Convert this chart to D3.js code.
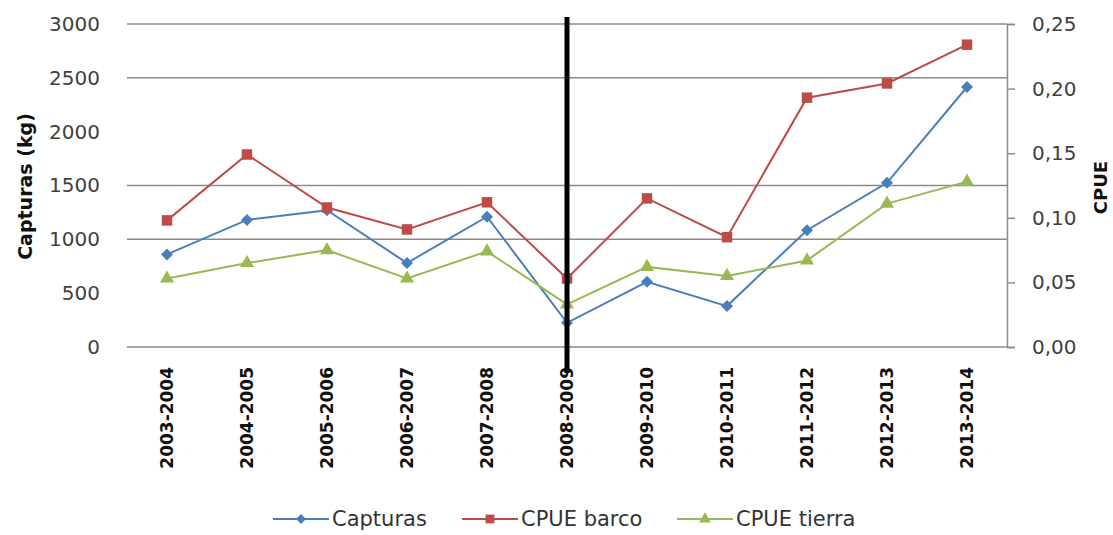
<!DOCTYPE html>
<meta charset="utf-8">
<style>
body { margin: 0; background: #fff; }
.tick text { font-family: "DejaVu Sans", sans-serif; }
</style>
<body>
<script src="https://d3js.org/d3.v7.min.js"></script>
<script>

var seasons = ["2003-2004","2004-2005","2005-2006","2006-2007","2007-2008","2008-2009",
               "2009-2010","2010-2011","2011-2012","2012-2013","2013-2014"];
var capturas = [860, 1180, 1270, 780, 1210, 225, 605, 380, 1085, 1525, 2415];
var cpueBarco = [0.098, 0.149, 0.108, 0.091, 0.112, 0.053, 0.115, 0.085, 0.193, 0.204, 0.234];
var cpueTierra = [0.053, 0.065, 0.075, 0.053, 0.074, 0.033, 0.062, 0.055, 0.067, 0.111, 0.128];
var leftTicks = [0, 500, 1000, 1500, 2000, 2500, 3000];
var rightTicks = [0, 0.05, 0.10, 0.15, 0.20, 0.25];
var gridValues = [0, 1000, 1500, 2500, 3000];
var markLine = "2008-2009";

var margin = {top: 24, right: 106, bottom: 188, left: 127},
    width = 1113 - margin.left - margin.right,
    height = 535 - margin.top - margin.bottom;

var svg = d3.select("body").append("svg")
    .attr("width", 1113)
    .attr("height", 535)
  .append("g")
    .attr("transform", "translate(" + margin.left + "," + margin.top + ")");

var x = d3.scaleBand().domain(seasons).range([0, width]);
var yL = d3.scaleLinear().domain([0, 3000]).range([height, 0]);
var yR = d3.scaleLinear().domain([0, 0.25]).range([height, 0]);
var cx = function(d) { return x(d) + x.bandwidth() / 2; };

// gridlines
svg.selectAll(".grid")
    .data(gridValues)
  .enter().append("line")
    .attr("x1", 0).attr("x2", width)
    .attr("y1", yL).attr("y2", yL)
    .attr("stroke", "#8a8a8a").attr("stroke-width", 1.5);

// left axis (labels only)
var gl = svg.append("g")
    .call(d3.axisLeft(yL).tickValues(leftTicks).tickSize(0).tickPadding(27).tickFormat(d3.format("d")));
gl.select(".domain").remove();
gl.selectAll("text").attr("font-size", 20).attr("fill", "#404040");

// right axis
var gr = svg.append("g")
    .attr("transform", "translate(" + width + ",0)")
    .call(d3.axisRight(yR).tickValues(rightTicks).tickSize(8).tickPadding(17)
      .tickFormat(function(d) { return d3.format(".2f")(d).replace(".", ","); }));
gr.select(".domain").attr("stroke", "#8a8a8a").attr("stroke-width", 1.5);
gr.selectAll("line").attr("stroke", "#8a8a8a").attr("stroke-width", 1.5);
gr.selectAll("text").attr("font-size", 20).attr("fill", "#404040");

// x labels
svg.selectAll(".xl")
    .data(seasons)
  .enter().append("text")
    .attr("transform", function(d) { return "translate(" + (cx(d) + 6) + "," + (height + 20) + ") rotate(-90)"; })
    .attr("text-anchor", "end")
    .attr("font-family", "DejaVu Sans, sans-serif")
    .attr("font-weight", "bold")
    .attr("font-size", 17)
    .attr("fill", "#111")
    .text(function(d) { return d; });

// axis titles
svg.append("text")
    .attr("transform", "translate(" + (-margin.left + 32) + "," + (height / 2 + 1) + ") rotate(-90)")
    .attr("text-anchor", "middle")
    .attr("font-family", "DejaVu Sans, sans-serif")
    .attr("font-weight", "bold")
    .attr("font-size", 19)
    .attr("fill", "#111")
    .text("Capturas (kg)");
svg.append("text")
    .attr("transform", "translate(" + (width + 100) + "," + (height / 2 + 2) + ") rotate(-90)")
    .attr("text-anchor", "middle")
    .attr("font-family", "DejaVu Sans, sans-serif")
    .attr("font-weight", "bold")
    .attr("font-size", 18)
    .attr("fill", "#111")
    .text("CPUE");

// series
var series = [
  {name: "Capturas", values: capturas, y: yL, color: "#4a7ebb", symbol: d3.symbolSquare, size: 72, rot: 45},
  {name: "CPUE barco", values: cpueBarco, y: yR, color: "#be4b48", symbol: d3.symbolSquare, size: 110, rot: 0},
  {name: "CPUE tierra", values: cpueTierra, y: yR, color: "#98b954", symbol: d3.symbolTriangle, size: 85, rot: 0}
];

series.forEach(function(s) {
  var line = d3.line()
      .x(function(d, i) { return cx(seasons[i]); })
      .y(function(d) { return s.y(d); });
  svg.append("path")
      .datum(s.values)
      .attr("fill", "none")
      .attr("stroke", s.color)
      .attr("stroke-width", 2)
      .attr("d", line);
  svg.selectAll(null)
      .data(s.values)
    .enter().append("path")
      .attr("d", d3.symbol().type(s.symbol).size(s.size))
      .attr("transform", function(d, i) {
        return "translate(" + cx(seasons[i]) + "," + s.y(d) + ") rotate(" + s.rot + ")";
      })
      .attr("fill", s.color);
});

// black vertical marker
svg.append("line")
    .attr("x1", cx(markLine)).attr("x2", cx(markLine))
    .attr("y1", yL(3000) - 7).attr("y2", height + 26)
    .attr("stroke", "#000").attr("stroke-width", 5);

// legend
var legend = svg.append("g")
    .attr("transform", "translate(" + (273 - margin.left) + "," + (519 - margin.top) + ")");
var lx = [0, 189, 404];
series.forEach(function(s, i) {
  var g = legend.append("g").attr("transform", "translate(" + lx[i] + ",0)");
  g.append("line").attr("x1", 0).attr("x2", 56).attr("stroke", s.color).attr("stroke-width", 2);
  g.append("path")
      .attr("d", d3.symbol().type(s.symbol).size(s.size * 0.7))
      .attr("transform", "translate(28,0) rotate(" + s.rot + ")")
      .attr("fill", s.color);
  g.append("text")
      .attr("x", 59).attr("y", 0).attr("dy", "0.35em")
      .attr("font-family", "DejaVu Sans, sans-serif")
      .attr("font-size", 21)
      .attr("fill", "#333")
      .text(s.name);
});

</script>
